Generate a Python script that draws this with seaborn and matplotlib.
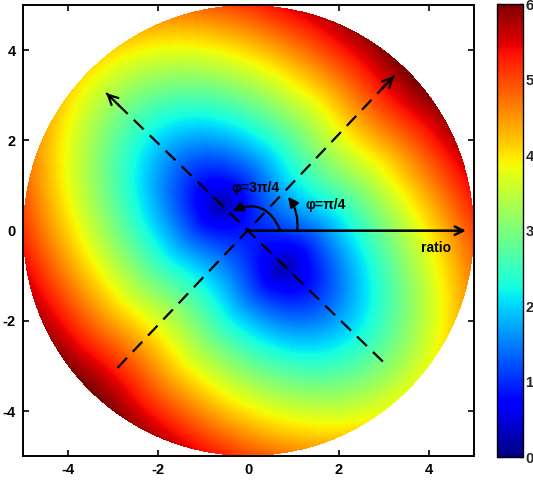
import numpy as np
import pandas as pd
import seaborn as sns
import matplotlib
matplotlib.use("Agg")
import matplotlib.pyplot as plt
import matplotlib.transforms as mtransforms
from matplotlib.patches import FancyArrowPatch

# axis / colour bar values
axis_ticks = [-4, -2, 0, 2, 4]
cbar_ticks = [0, 1, 2, 3, 4, 5, 6]
disc_radius = 5.0
n_cells = 450

# shape of the field
# u runs along phi=pi/4, v along phi=3pi/4
floor_val = 0.3      # value at the two dark blue minima
centre_val = 0.85    # saddle between the minima
v_shift = -0.15      # the pair of minima sits a little towards the lower right
v_min = 0.98         # minima at v = v_shift +- v_min
v_gain = 0.93        # rise along 3pi/4 beyond a minimum
v_lift = 0.15
v_lift_len = 0.2
u_gain = 1.35        # rise along pi/4
u_curl = 0.03

# annotation positions (data units)
line_pi4 = [(-2.9, -3.04), (3.23, 3.43)]
line_3pi4 = [(2.98, -2.9), (-3.15, 3.05)]
ratio_arrow = [(0.0, 0.0), (4.82, 0.0)]
arc_pi4 = [(1.08, 0.0), (0.88, 0.75)]
arc_3pi4 = [(0.71, 0.0), (-0.35, 0.44)]
label_text = ["\u03c6=3\u03c0/4", "\u03c6=\u03c0/4", "ratio"]
label_pos = [(0.15, 0.94), (1.72, 0.56), (4.15, -0.39)]

sns.set_style("white")
plt.rcParams["font.family"] = ["Liberation Sans", "DejaVu Sans"]
plt.rcParams["font.weight"] = "bold"

# field on the grid
centers = np.linspace(-5, 5, n_cells, endpoint=False) + 5.0 / n_cells
X, Y = np.meshgrid(centers, centers)
U = np.abs(X + Y) / np.sqrt(2)
V = np.abs((Y - X) / np.sqrt(2) - v_shift)
D = V - v_min
B = np.where(D < 0,
             centre_val * (1 - (V / v_min) ** 2),
             v_gain * D + v_lift * np.tanh(np.clip(D, 0, None) / v_lift_len))
F = u_gain * U - u_curl * U ** 2
Z = np.sqrt(floor_val ** 2 + B ** 2 + F ** 2)
mask = X ** 2 + Y ** 2 > disc_radius ** 2
df = pd.DataFrame(Z)  # row 0 is y = -5

fig = plt.figure(figsize=(5.33, 4.84), dpi=100)
ax = fig.add_axes([0.0426, 0.0572, 0.8467, 0.9324])
cax = fig.add_axes([0.9319, 0.0552, 0.0488, 0.936])

sns.heatmap(df, mask=mask, cmap="jet", vmin=0, vmax=6, ax=ax, cbar_ax=cax,
            xticklabels=False, yticklabels=False,
            cbar_kws={"ticks": cbar_ticks})

# data units -> heatmap cell units
trans = mtransforms.Affine2D().translate(5, 5).scale(n_cells / 10.0) + ax.transData

ls_dash = (0, (6.2, 3.8))
for (x0, y0), (x1, y1) in [line_pi4, line_3pi4]:
    ax.plot([x0, x1], [y0, y1], transform=trans, color="k", lw=1.6, ls=ls_dash)
    d = np.array([x1 - x0, y1 - y0])
    d = d / np.hypot(*d) * 0.4
    ax.annotate("", xy=(x1, y1), xytext=(x1 - d[0], y1 - d[1]),
                xycoords=trans, textcoords=trans,
                arrowprops=dict(arrowstyle="->,head_length=0.7,head_width=0.35",
                                lw=1.6, color="k", shrinkA=0, shrinkB=0))

ax.annotate("", xy=ratio_arrow[1], xytext=ratio_arrow[0],
            xycoords=trans, textcoords=trans,
            arrowprops=dict(arrowstyle="->,head_length=0.6,head_width=0.3",
                            lw=1.8, color="k", shrinkA=0, shrinkB=0))

for (pa, pb), rad in [(arc_pi4, 0.2), (arc_3pi4, 0.5)]:
    arr = FancyArrowPatch(pa, pb, connectionstyle=f"arc3,rad={rad}",
                          arrowstyle="-|>,head_length=0.6,head_width=0.3",
                          mutation_scale=10, lw=1.6, color="k",
                          shrinkA=0, shrinkB=0, transform=trans)
    ax.add_patch(arr)

for txt, (tx, ty) in zip(label_text, label_pos):
    ax.text(tx, ty, txt, transform=trans, ha="center", va="center",
            fontsize=10, fontweight="bold", color="k")

ax.set_xlim(0, n_cells)
ax.set_ylim(0, n_cells)
tick_cells = [(t + 5) * n_cells / 10.0 for t in axis_ticks]
ax.set_xticks(tick_cells)
ax.set_xticklabels([str(t) for t in axis_ticks])
ax.set_yticks(tick_cells)
ax.set_yticklabels([str(t) for t in axis_ticks])
ax.tick_params(direction="in", top=True, right=True, bottom=True, left=True,
               length=4, width=1.2, labelsize=10.5, pad=5, colors="k")
for s in ax.spines.values():
    s.set_visible(True)
    s.set_linewidth(1.4)
    s.set_color("k")

cb = ax.collections[0].colorbar
cb.outline.set_visible(True)
cb.outline.set_linewidth(1.0)
cb.outline.set_edgecolor("k")
cax.tick_params(direction="in", left=True, right=True, length=3, width=1,
                labelsize=10.5, pad=2)

fig.savefig("out.png", dpi=100)
